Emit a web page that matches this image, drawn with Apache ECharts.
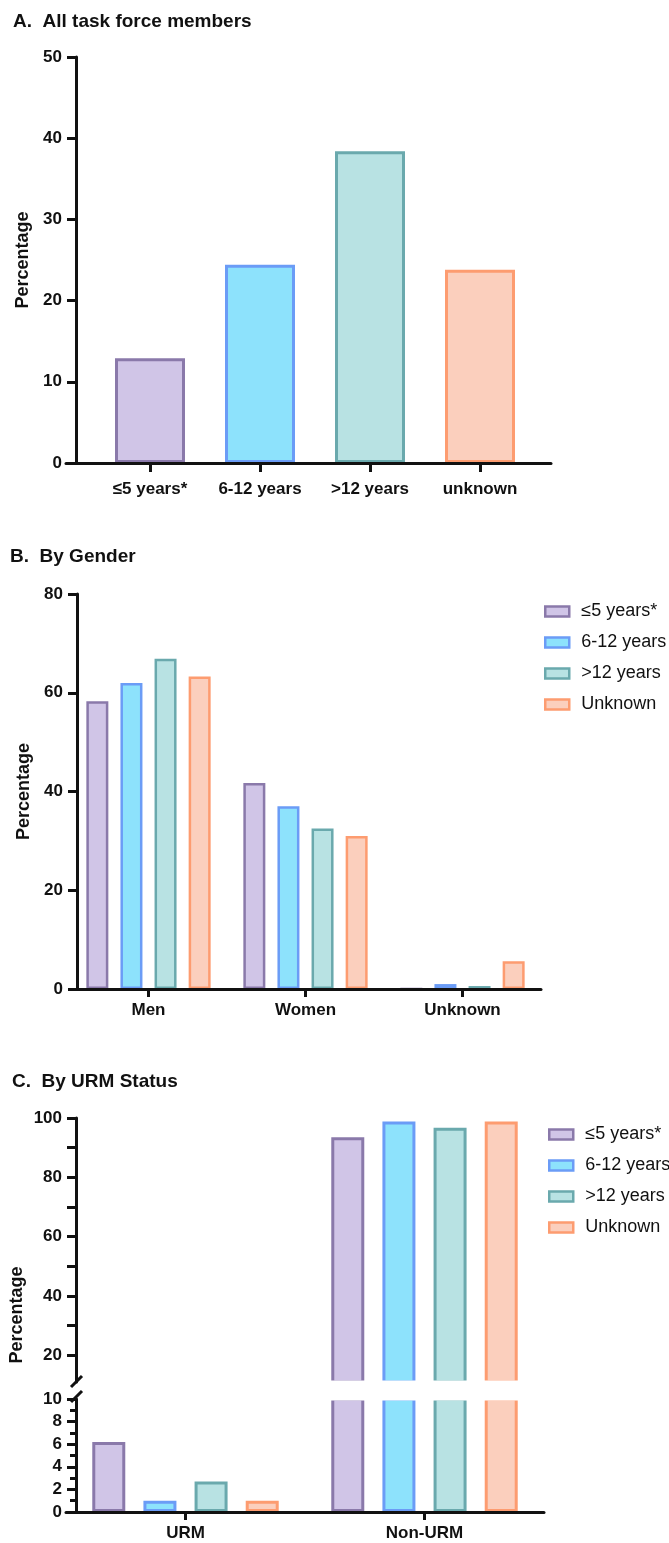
<!DOCTYPE html>
<html>
<head>
<meta charset="utf-8">
<script src="https://cdn.jsdelivr.net/npm/echarts@6/dist/echarts.min.js"></script>
<style>
  html, body { margin: 0; padding: 0; background: #fff; }
  #chart { width: 669px; height: 1543px; }
</style>
</head>
<body>
<div id="chart"></div>
<script>
// ---- data ----
var groupNames = ['≤5 years*', '6-12 years', '>12 years', 'Unknown'];

var allCategories = ['≤5 years*', '6-12 years', '>12 years', 'unknown'];
var allValues = [12.9, 24.4, 38.4, 23.8];
var allTicks = [0, 10, 20, 30, 40, 50];

var genderCategories = ['Men', 'Women', 'Unknown'];
var gender5 = [58.3, 41.7, 0];
var gender612 = [62.0, 37.0, 1.0];
var gender12 = [66.9, 32.5, 0.6];
var genderUnknown = [63.3, 31.0, 5.6];
var genderTicks = [0, 20, 40, 60, 80];

var urmCategories = ['URM', 'Non-URM'];
var urm5 = [6.2, 93.5];
var urm612 = [1.0, 98.8];
var urm12 = [2.7, 96.7];
var urmUnknown = [1.0, 98.8];
var urmUpperTicks = [20, 30, 40, 50, 60, 70, 80, 90, 100];
var urmUpperLabels = [20, 40, 60, 80, 100];
var urmLowerLabels = [0, 2, 4, 6, 8, 10];

// ---- styles ----
var fills = ['#d0c5e7', '#8de2fc', '#b8e2e3', '#fbcfbd'];
var borders = ['#8a79aa', '#6b9cf6', '#6aa9ad', '#fd9c70'];
var font = 'Liberation Sans, Arial, sans-serif';
var ink = '#111';
var upperMin = 11;

var genderData = [gender5, gender612, gender12, genderUnknown];
var urmData = [urm5, urm612, urm12, urmUnknown];

function yAxisBase(extra) {
	var a = {
		type: 'value',
		axisLine: { show: true, lineStyle: { color: ink, width: 3 } },
		axisTick: { show: true, length: 9, lineStyle: { color: ink, width: 3 } },
		axisLabel: { color: ink, fontSize: 17, fontWeight: 'bold', fontFamily: font, margin: 14 },
		splitLine: { show: false },
		nameTextStyle: { color: ink, fontSize: 18, fontWeight: 'bold', fontFamily: font }
	};
	for (var k in extra) a[k] = extra[k];
	return a;
}

function catAxis(grid, data, margin) {
	return {
		type: 'category', gridIndex: grid, data: data,
		axisLine: { show: true, lineStyle: { color: ink, width: 3 } },
		axisTick: { show: true, alignWithLabel: true, length: 8, lineStyle: { color: ink, width: 3 } },
		axisLabel: { color: ink, fontSize: 17, fontWeight: 'bold', fontFamily: font, margin: margin },
		z: 10
	};
}

function legendFor(left, top) {
	return {
		orient: 'vertical', left: left, top: top,
		itemWidth: 24, itemHeight: 10, itemGap: 12,
		selectedMode: false,
		textStyle: { color: ink, fontSize: 18, fontFamily: font, lineHeight: 19, padding: [0, 0, 0, 7] },
		data: groupNames.map(function(n, i) {
			return { name: n, icon: 'rect', itemStyle: { color: fills[i], borderColor: borders[i], borderWidth: 2.5 } };
		})
	};
}

var myChart = echarts.init(document.getElementById('chart'));

var series = [];
// A
series.push({
	name: 'All task force members', type: 'bar', xAxisIndex: 0, yAxisIndex: 0, barWidth: 70,
	data: allValues.map(function(v, i) {
		return { value: v, itemStyle: { color: fills[i], borderColor: borders[i], borderWidth: 3 } };
	})
});
// B
groupNames.forEach(function(n, i) {
	series.push({
		name: n, type: 'bar', xAxisIndex: 2, yAxisIndex: 2, barWidth: 22, barGap: '55%',
		itemStyle: { color: fills[i], borderColor: borders[i], borderWidth: 2.5 },
		data: genderData[i]
	});
});
// C, upper and lower segments
groupNames.forEach(function(n, i) {
	series.push({
		name: n, type: 'bar', xAxisIndex: 3, yAxisIndex: 3, barWidth: 33, barGap: '55%',
		itemStyle: { color: fills[i], borderColor: borders[i], borderWidth: 3 },
		data: urmData[i].map(function(v) { return v > upperMin ? v : '-'; })
	});
	series.push({
		name: n, type: 'bar', xAxisIndex: 4, yAxisIndex: 4, barWidth: 33, barGap: '55%',
		itemStyle: { color: fills[i], borderColor: borders[i], borderWidth: 3 },
		data: urmData[i]
	});
});

var titleStyle = { color: ink, fontSize: 19, fontWeight: 'bold', fontFamily: font };

var option = {
	backgroundColor: '#fff',
	animation: false,
	title: [
		{ text: 'A.  All task force members', left: 13, top: 12, padding: 0, textStyle: titleStyle },
		{ text: 'B.  By Gender', left: 10, top: 547, padding: 0, textStyle: titleStyle },
		{ text: 'C.  By URM Status', left: 12, top: 1072, padding: 0, textStyle: titleStyle }
	],
	legend: [legendFor(539, 597), legendFor(543, 1120)],
	grid: [
		{ left: 95, width: 440, top: 57, height: 406 },
		{ left: 66, width: 485, top: 57, height: 406 },
		{ left: 70, width: 471, top: 594, height: 395 },
		{ left: 66, width: 478, top: 1118, height: 264 },
		{ left: 66, width: 478, top: 1399, height: 113 },
		{ left: 66, width: 478, top: 1118, height: 394 }
	],
	xAxis: [
		(function() { var a = catAxis(0, allCategories, 18); a.axisLine = { show: false }; a.axisTick.length = 9; return a; })(),
		{ type: 'value', gridIndex: 1, min: 0, max: 1, z: 10,
			axisLine: { show: true, lineStyle: { color: ink, width: 3 } },
			axisTick: { show: false }, axisLabel: { show: false }, splitLine: { show: false } },
		catAxis(2, genderCategories, 13),
		{ type: 'category', gridIndex: 3, data: urmCategories, show: false },
		catAxis(4, urmCategories, 13),
		{ type: 'category', gridIndex: 5, data: urmCategories, show: false }
	],
	yAxis: [
		yAxisBase({ gridIndex: 0, min: allTicks[0], max: allTicks[allTicks.length - 1], interval: 10, offset: 19,
			name: 'Percentage', nameLocation: 'middle', nameGap: 42 }),
		{ type: 'value', gridIndex: 1, show: false },
		yAxisBase({ gridIndex: 2, min: genderTicks[0], max: genderTicks[genderTicks.length - 1], interval: 20, offset: -7,
			name: 'Percentage', nameLocation: 'middle', nameGap: 41 }),
		yAxisBase({ gridIndex: 3, min: upperMin, max: 100, offset: -10,
			axisTick: { show: true, length: 9, customValues: urmUpperTicks, lineStyle: { color: ink, width: 3 } },
			axisLabel: { color: ink, fontSize: 17, fontWeight: 'bold', fontFamily: font, margin: 14, customValues: urmUpperLabels } }),
		yAxisBase({ gridIndex: 4, min: 0, max: 10, interval: 2, offset: -10,
			minorTick: { show: true, splitNumber: 2, length: 6, lineStyle: { color: ink, width: 3 } },
			axisLabel: { color: ink, fontSize: 17, fontWeight: 'bold', fontFamily: font, margin: 14, customValues: urmLowerLabels } }),
		yAxisBase({ gridIndex: 5, min: 0, max: 1, offset: -10, axisLine: { show: false }, axisTick: { show: false },
			axisLabel: { show: false }, name: 'Percentage', nameLocation: 'middle', nameGap: 52 })
	],
	graphic: [
		// white band that opens the bar ends at the axis break
		{ type: 'rect', shape: { x: 79, y: 1380.5, width: 470, height: 20 }, style: { fill: '#fff' }, z: 15 },
		{ type: 'line', shape: { x1: 71, y1: 1387, x2: 82, y2: 1376 }, style: { stroke: ink, lineWidth: 3 }, z: 20 },
		{ type: 'line', shape: { x1: 71, y1: 1402, x2: 82, y2: 1391 }, style: { stroke: ink, lineWidth: 3 }, z: 20 }
	],
	series: series
};
myChart.setOption(option);
</script>
</body>
</html>
